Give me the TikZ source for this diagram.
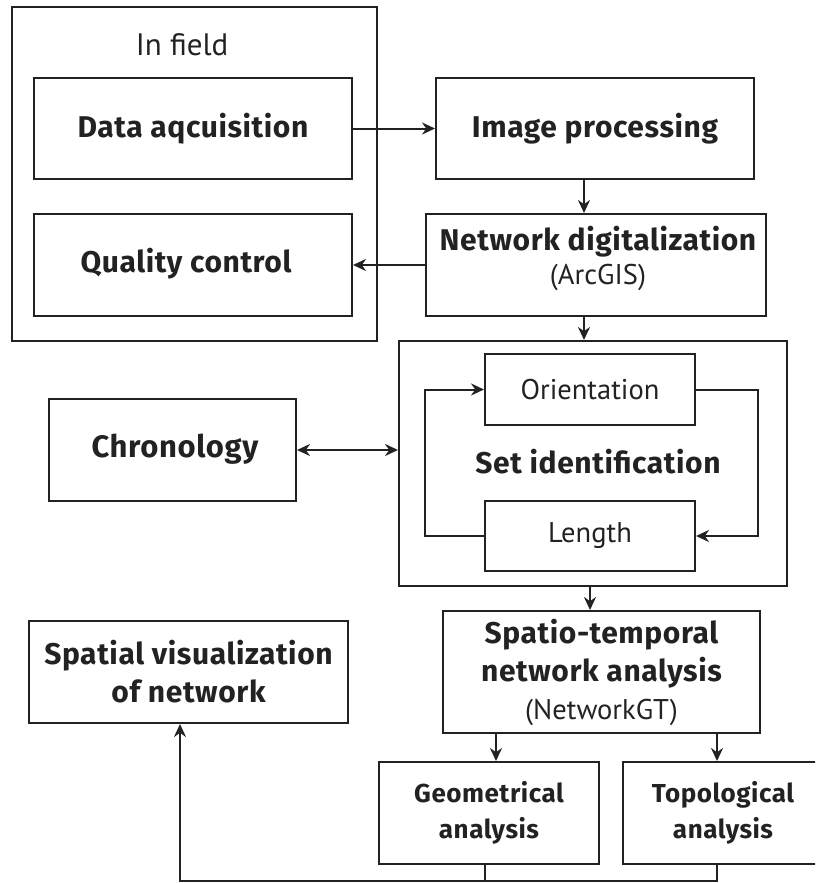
\documentclass[tikz,border=0pt]{standalone}
\usepackage{fontspec}
\setmainfont{PT Sans}
\newfontfamily\headfont{Fira Sans}[LetterSpace=2]
\usetikzlibrary{arrows.meta}
\definecolor{ink}{HTML}{222222}
\begin{document}
\begin{tikzpicture}[x=1pt,y=-1pt,
  line/.style={draw=ink, line width=2pt},
  tip/.tip={Stealth[length=13pt,width=12pt]},
  arr/.style={line, -tip},
  darr/.style={line, tip-tip},
  box/.style={line, rectangle, inner sep=0pt, align=center, text=ink,
    font=\headfont\bfseries\fontsize{30}{38}\selectfont},
  small/.style={box, font=\headfont\bfseries\fontsize{26}{36}\selectfont},
  plain/.style={box, font=\mdseries\fontsize{28.5}{34}\selectfont},
  lbl/.style={inner sep=0pt, text=ink, align=center},
  head/.style={lbl, font=\headfont\bfseries\fontsize{30}{36}\selectfont}
]
\useasboundingbox (0,0) rectangle (815,883);
\clip (0,0) rectangle (815,883);

% field work group
\node[line, rectangle, minimum width=365, minimum height=334] (field) at (194.5,174) {};
\node[lbl, font=\fontsize{31}{34}\selectfont] (fieldlbl) at (182,45) {In field};
\node[box, minimum width=318, minimum height=101] (data) at (193,128.5) {Data aqcuisition};
\node[box, minimum width=318, minimum height=102] (quality) at (193,265) {};
\node[head] (qualitytext) at (186,264) {Quality control};

% processing chain
\node[box, minimum width=318, minimum height=101] (image) at (595,128.5) {Image processing};
\node[box, minimum width=340, minimum height=102] (net) at (596,265) {};
\node[head] (nettext) at (598,258)
  {Network digitalization\\[-2pt]{\normalfont\fontsize{28.5}{34}\selectfont (ArcGIS)}};

% set identification group
\node[line, rectangle, minimum width=388, minimum height=245] (setbox) at (593,463.5) {};
\node[head] (setlbl) at (598,462) {Set identification};
\node[plain, minimum width=210, minimum height=71] (orient) at (590,389.5) {Orientation};
\node[plain, minimum width=210, minimum height=70] (length) at (590,536) {Length};

\node[box, minimum width=247, minimum height=102] (chrono) at (172.5,450) {};
\node[head, font=\headfont\bfseries\fontsize{31}{36}\selectfont] (chronotext) at (175,449) {Chronology};

% analysis
\node[box, minimum width=317, minimum height=122] (spatio) at (601.5,672)
  {Spatio-temporal\\network analysis\\{\normalfont\fontsize{28.5}{34}\selectfont (NetworkGT)}};
\node[box, minimum width=319, minimum height=102] (spatial) at (188.5,672)
  {Spatial visualization\\of network};
\node[small, minimum width=220, minimum height=102] (geo) at (489,813)
  {Geometrical\\analysis};
\node[small, minimum width=200, minimum height=102] (topo) at (723,813)
  {Topological\\analysis};

% connectors
\draw[arr] (data.east) -- (image.west);
\draw[arr] ([xshift=-11pt]image.south) -- ([xshift=-12pt]net.north);
\draw[arr] (net.west) -- (quality.east);
\draw[arr] ([xshift=-12pt]net.south) -- ([xshift=-9pt]setbox.north);
\draw[darr] (chrono.east) -- (chrono.east -| setbox.west);
\draw[arr] (length.west) -- ++(-59,0) |- (orient.west);
\draw[arr] (orient.east) -- ++(62,0) |- (length.east);
\draw[arr] ([xshift=-3pt]setbox.south) -- ([xshift=-11.5pt]spatio.north);
\draw[arr] ([xshift=-105.5pt]spatio.south) -- ([xshift=7pt]geo.north);
\draw[arr] ([xshift=115.5pt]spatio.south) -- ([xshift=-6pt]topo.north);

\coordinate (floor) at (0,881);
\coordinate (gp) at ([xshift=-4pt]geo.south);
\coordinate (tp) at ([xshift=-6pt]topo.south);
\coordinate (sv) at ([xshift=-8.5pt]spatial.south);
\draw[line] (gp) -- (gp |- floor);
\draw[arr] (tp) -- (tp |- floor) -- (sv |- floor) -- (sv);
\end{tikzpicture}
\end{document}
